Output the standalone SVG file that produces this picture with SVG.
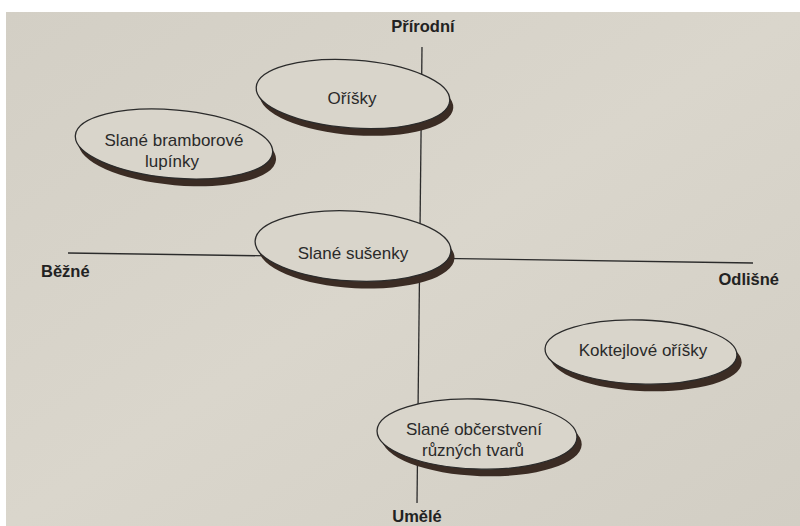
<svg xmlns="http://www.w3.org/2000/svg" width="800" height="526" viewBox="0 0 800 526">
  <defs>
    <linearGradient id="bg" x1="0" y1="0" x2="1" y2="1">
      <stop offset="0" stop-color="#d3cfc5"/>
      <stop offset="0.5" stop-color="#dad6cc"/>
      <stop offset="1" stop-color="#d2cec4"/>
    </linearGradient>
  </defs>
  <style>
    .sh { fill: #3b2c24; }
    .el { fill: #d9d5cb; stroke: #2b2b2b; stroke-width: 1.3; }
    .lbl { font-family: "Liberation Sans", Arial, sans-serif; font-size: 17px; fill: #2a2a2a; text-anchor: middle; }
    .ax { font-family: "Liberation Sans", Arial, sans-serif; font-size: 16.5px; font-weight: bold; fill: #222; }
    .axis { stroke: #2b2b2b; stroke-width: 1.3; fill: none; }
  </style>
  <rect width="800" height="526" fill="#ffffff"/>
  <rect x="6" y="12" width="794" height="514" fill="url(#bg)"/>

  <g id="connectors">
    <line class="axis" x1="422" y1="47" x2="417" y2="503"/>
    <line class="axis" x1="68" y1="253" x2="753" y2="263"/>
  </g>

  <g id="axis-labels">
    <text class="ax" x="423" y="32" text-anchor="middle">Přírodní</text>
    <text class="ax" x="417" y="522" text-anchor="middle">Umělé</text>
    <text class="ax" x="41" y="277">Běžné</text>
    <text class="ax" x="779" y="285" text-anchor="end">Odlišné</text>
  </g>

  <g id="node-orisky" transform="rotate(4 353 94)">
    <ellipse class="sh" cx="357" cy="101" rx="97" ry="34"/>
    <ellipse class="el" cx="353" cy="94" rx="97" ry="34"/>
  </g>
  <text class="lbl" x="352" y="104">Oříšky</text>

  <g id="node-bramborove" transform="rotate(5 174 144)">
    <ellipse class="sh" cx="178" cy="151" rx="99" ry="34"/>
    <ellipse class="el" cx="174" cy="144" rx="99" ry="34"/>
  </g>
  <g id="label-bramborove">
    <text class="lbl" x="174" y="146">Slané bramborové</text>
    <text class="lbl" x="172" y="167">lupínky</text>
  </g>

  <g id="node-susenky" transform="rotate(3 353 246)">
    <ellipse class="sh" cx="357" cy="253" rx="98" ry="35"/>
    <ellipse class="el" cx="353" cy="246" rx="98" ry="35"/>
  </g>
  <text class="lbl" x="353" y="259">Slané sušenky</text>

  <g id="node-koktejlove" transform="rotate(2 641 352)">
    <ellipse class="sh" cx="646" cy="359" rx="96" ry="32"/>
    <ellipse class="el" cx="641" cy="352" rx="96" ry="32"/>
  </g>
  <text class="lbl" x="643" y="356">Koktejlové oříšky</text>

  <g id="node-obcerstveni" transform="rotate(2 477 434)">
    <ellipse class="sh" cx="482" cy="441" rx="100" ry="35"/>
    <ellipse class="el" cx="477" cy="434" rx="100" ry="35"/>
  </g>
  <g id="label-obcerstveni">
    <text class="lbl" x="474" y="435">Slané občerstvení</text>
    <text class="lbl" x="473" y="456">různých tvarů</text>
  </g>
</svg>
